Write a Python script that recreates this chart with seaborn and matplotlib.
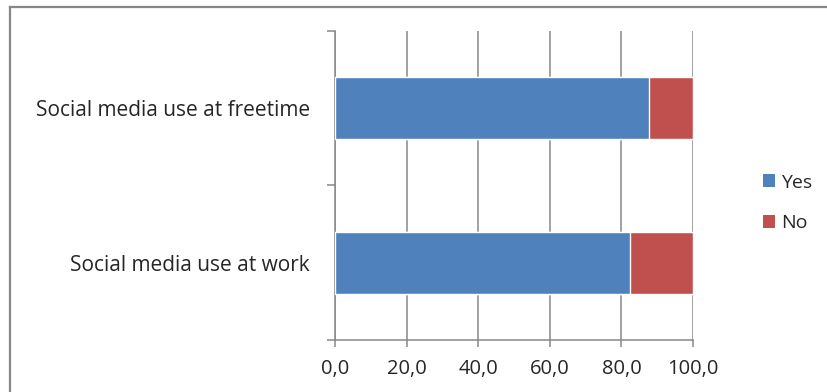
import matplotlib
matplotlib.use("Agg")
import matplotlib.pyplot as plt
from matplotlib.lines import Line2D
from matplotlib.patches import Patch
import seaborn as sns
import pandas as pd

categories = ["Social media use at freetime", "Social media use at work"]
yes_values = [87.6, 82.5]
no_values = [12.4, 17.5]
series_names = ["Yes", "No"]
x_ticks = [0, 20, 40, 60, 80, 100]
x_tick_labels = ["0,0", "20,0", "40,0", "60,0", "80,0", "100,0"]

blue = "#4F81BD"
red = "#C0504D"
axis_grey = "#878787"
text_col = "#262626"

sns.set_theme(style="white")
plt.rcParams["font.family"] = ["Open Sans", "DejaVu Sans"]

df = pd.DataFrame({
    "category": categories,
    "Yes": yes_values,
    "No": no_values,
})
df["total"] = df["Yes"] + df["No"]

fig = plt.figure(figsize=(8.27, 3.92), dpi=100)
ax = fig.add_axes([335 / 827, 1 - 340 / 392, (693 - 335) / 827, (340 - 30.7) / 392])

# Stacked bars: full length in red, the "Yes" share in blue on top
sns.barplot(data=df, y="category", x="total", color=red, saturation=1,
            width=0.4, orient="h", ax=ax, zorder=3)
sns.barplot(data=df, y="category", x="Yes", color=blue, saturation=1,
            width=0.4, orient="h", ax=ax, zorder=4)

ax.set_xlim(0, 100)
ax.set_ylim(1.5, -0.5)
ax.set_xlabel("")
ax.set_ylabel("")

ax.set_xticks(x_ticks)
ax.set_xticklabels(x_tick_labels)
ax.xaxis.grid(True, color=axis_grey, linewidth=1.1, zorder=0)
ax.set_axisbelow(True)

# category boundaries get the tick marks; labels sit at the centres
ax.set_yticks([0, 1])
ax.set_yticklabels(categories)
ax.set_yticks([-0.5, 0.5, 1.5], minor=True)
ax.tick_params(axis="y", which="major", length=0, pad=18, labelsize=15, labelcolor=text_col)
ax.tick_params(axis="y", which="minor", length=6, width=1.1, color=axis_grey, left=True)
ax.tick_params(axis="x", which="major", length=5, width=1.1, color=axis_grey, bottom=True,
               direction="out", pad=9, labelsize=14.5, labelcolor=text_col)

for side in ["top", "right"]:
    ax.spines[side].set_visible(False)
for side in ["left", "bottom"]:
    ax.spines[side].set_color(axis_grey)
    ax.spines[side].set_linewidth(1.1)

handles = [Patch(facecolor=blue, edgecolor="none"), Patch(facecolor=red, edgecolor="none")]
fig.legend(handles, series_names, loc="upper left", bbox_to_anchor=(755 / 827, 1 - 166 / 392),
           frameon=False, fontsize=14, handlelength=0.65, handleheight=0.65,
           handletextpad=0.3, labelspacing=1.15, labelcolor=text_col, borderaxespad=0)

# outer chart frame (left and top edges)
fig.add_artist(Line2D([10 / 827, 10 / 827], [0, 1 - 6.5 / 392], transform=fig.transFigure,
                      color=axis_grey, linewidth=1.6, solid_capstyle="projecting"))
fig.add_artist(Line2D([10 / 827, 1], [1 - 6.5 / 392, 1 - 6.5 / 392], transform=fig.transFigure,
                      color=axis_grey, linewidth=1.6, solid_capstyle="projecting"))

fig.savefig("out.png", dpi=100, facecolor="white")
